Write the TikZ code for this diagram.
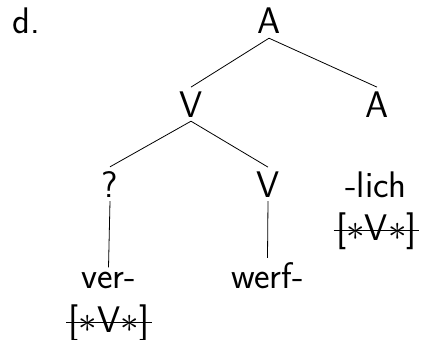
\RequirePackage{fix-cm}
\documentclass[tikz,border=0pt]{standalone}
\begin{document}
\begin{tikzpicture}[x=1pt,y=-1pt,
  lbl/.style={anchor=base,inner sep=4pt,font=\fontsize{37}{44}\selectfont\sffamily},
  brk/.style={anchor=base,inner sep=0pt,font=\fontsize{37}{44}\selectfont\sffamily},
  edge/.style={line width=0.8pt},
  strike/.style={line width=1.3pt}]
\useasboundingbox (0,0) rectangle (421,340);
\node[brk,anchor=base west] (d) at (12,34) {d.};
\node[lbl] (A0) at (269,34) {A};
\node[lbl] (V1) at (191,117) {V};
\node[lbl] (A1) at (377,117) {A};
\node[lbl] (Q) at (110,197) {?};
\node[lbl] (V2) at (268,197) {V};
\node[lbl] (lich) at (376,197) {-lich};
\node[brk] (bR) at (376.5,240) {[$\ast$V$\ast$]};
\node[lbl] (ver) at (108.5,288) {ver-};
\node[brk] (bL) at (109,332) {[$\ast$V$\ast$]};
\node[lbl] (werf) at (267.5,288) {werf-};
\draw[edge] (A0.south) -- (V1.north);
\draw[edge] (A0.south) -- (A1.north);
\draw[edge] (V1.south) -- (Q.north);
\draw[edge] (V1.south) -- (V2.north);
\draw[edge] (Q.south) -- (ver.north);
\draw[edge] (V2.south) -- (werf.north);
\draw[strike] ([xshift=-2.5pt]bR.west) -- ([xshift=2.5pt]bR.east);
\draw[strike] ([xshift=-2.5pt]bL.west) -- ([xshift=2.5pt]bL.east);
\end{tikzpicture}
\end{document}
